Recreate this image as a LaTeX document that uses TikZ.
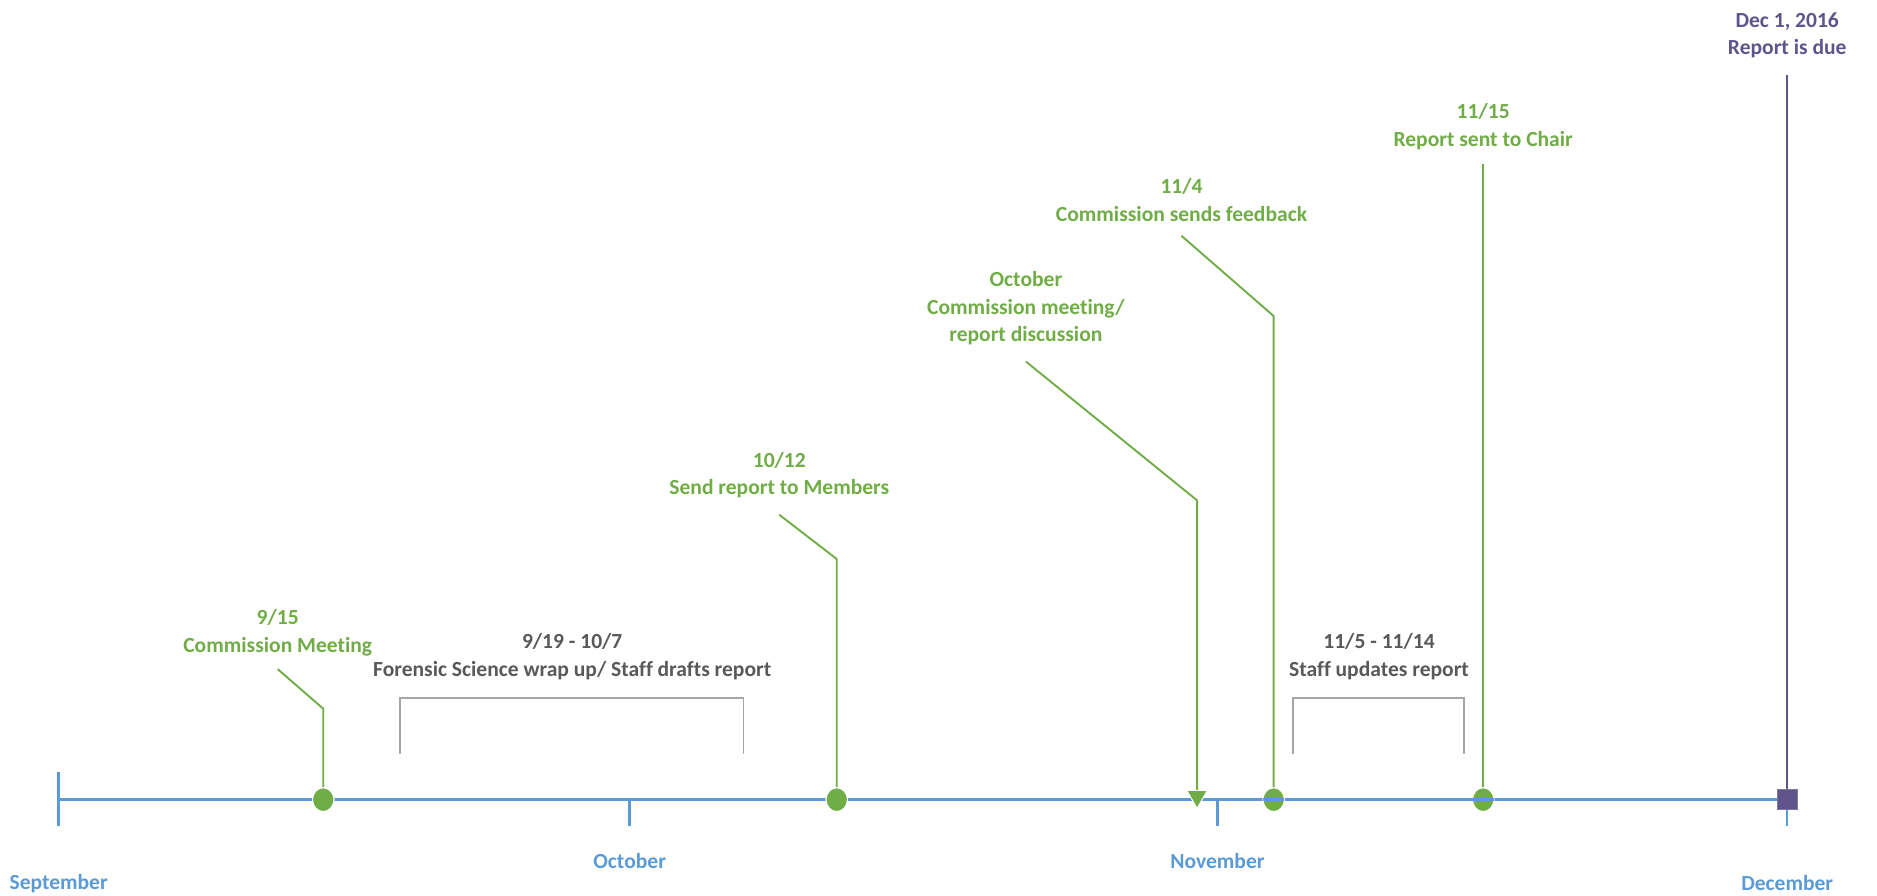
\documentclass[tikz,border=0pt]{standalone}
\usepackage{fontspec}
\setmainfont{Carlito}[Ligatures=CommonOff]
\usetikzlibrary{shapes.geometric}
\definecolor{evgreen}{HTML}{70AD47}
\definecolor{axblue}{HTML}{5B9BD5}
\definecolor{duepurple}{HTML}{5F558C}
\definecolor{brgray}{HTML}{A6A6A6}
\definecolor{txgray}{HTML}{595959}
\tikzset{
  lbl/.style={font=\fontsize{18}{23}\selectfont\bfseries, align=center, inner sep=0pt},
  greenlbl/.style={lbl, text=evgreen},
  graylbl/.style={lbl, text=txgray},
  monthlbl/.style={lbl, text=axblue},
  duelbl/.style={lbl, text=duepurple},
  axisline/.style={draw=axblue, line width=2pt},
  conn/.style={draw=evgreen, line width=1.6pt},
  dueconn/.style={draw=duepurple, line width=1.6pt},
  bracketline/.style={draw=brgray, line width=1.4pt},
  evdot/.style={ellipse, fill=evgreen, draw=white, line width=1pt, minimum width=18pt, minimum height=20pt, inner sep=0pt},
  evtri/.style={isosceles triangle, isosceles triangle apex angle=60, shape border rotate=-90, fill=evgreen, draw=white, line width=0.8pt, minimum width=16pt, minimum height=15pt, inner sep=0pt},
  duesq/.style={rectangle, fill=duepurple, draw=duepurple!80!white, line width=0.8pt, minimum size=17pt, inner sep=0pt},
}
\begin{document}
\begin{tikzpicture}[x=1pt,y=-1pt]
\useasboundingbox (0,0) rectangle (1568,748);

% axis
\coordinate (axS) at (49,668);
\coordinate (axE) at (1493,668);
\draw[axisline] (axS) -- (axE);
% month ticks
\coordinate (tSa) at (49,645); \coordinate (tSb) at (49,690);
\coordinate (tOa) at (526,668); \coordinate (tOb) at (526,690);
\coordinate (tNa) at (1017,668); \coordinate (tNb) at (1017,690);
\coordinate (tDa) at (1493,648); \coordinate (tDb) at (1493,690);
\draw[axisline] (tSa) -- (tSb);
\draw[axisline] (tOa) -- (tOb);
\draw[axisline] (tNa) -- (tNb);
\draw[axisline] (tDa) -- (tDb);
\node[monthlbl] (mSep) at (49,738) {September};
\node[monthlbl] (mOct) at (526,719) {October};
\node[monthlbl] (mNov) at (1017,719) {November};
\node[monthlbl] (mDec) at (1493,738) {December};

% brackets
\coordinate (b1a) at (334,630); \coordinate (b1b) at (334,583);
\coordinate (b1c) at (621,583); \coordinate (b1d) at (621,630);
\draw[bracketline] (b1a) -- (b1b) -- (b1c) -- (b1d);
\node[graylbl] (t1) at (478,548.5) {9/19 - 10/7\\Forensic Science wrap up/ Staff drafts report};
\coordinate (b2a) at (1080,630); \coordinate (b2b) at (1080,583);
\coordinate (b2c) at (1223,583); \coordinate (b2d) at (1223,630);
\draw[bracketline] (b2a) -- (b2b) -- (b2c) -- (b2d);
\node[graylbl] (t2) at (1152,548.5) {11/5 - 11/14\\Staff updates report};

% 9/15
\coordinate (e1bend) at (270,592);
\coordinate (e1end) at (232,559);
\draw[conn] (270,668) -- (e1bend) -- (e1end);
\node[evdot] (e1) at (270,668) {};
\node[greenlbl] (l1) at (232,528.5) {9/15\\Commission Meeting};

% 10/12
\coordinate (e2bend) at (699,467);
\coordinate (e2end) at (651,430);
\draw[conn] (699,668) -- (e2bend) -- (e2end);
\node[evdot] (e2) at (699,668) {};
\node[greenlbl] (l2) at (651,397) {10/12\\Send report to Members};

% October meeting
\coordinate (e3bend) at (1000,418);
\coordinate (e3end) at (857,302);
\node[evtri, anchor=apex] (e3) at (1000,676) {};
\draw[conn] (e3.north) -- (e3bend) -- (e3end);
\node[greenlbl] (l3) at (857,257.5) {October\\Commission meeting/\\report discussion};

% 11/4
\coordinate (e4bend) at (1064,264);
\coordinate (e4end) at (987,197);
\node[evdot] (e4) at (1064,668) {};
\draw[conn] (e4) -- (e4bend) -- (e4end);
\draw[axisline] (1055,668) -- (1073,668);
\node[greenlbl] (l4) at (987,167) {11/4\\Commission sends feedback};

% 11/15
\coordinate (e5end) at (1239,137);
\node[evdot] (e5) at (1239,668) {};
\draw[conn] (e5) -- (e5end);
\draw[axisline] (1230,668) -- (1248,668);
\node[greenlbl] (l5) at (1239,106) {11/15\\Report sent to Chair};

% Dec 1 due
\coordinate (e6end) at (1493,63);
\draw[dueconn] (1493,660) -- (e6end);
\node[duesq] (e6) at (1493,668) {};
\node[duelbl] (l6) at (1493,29.5) {Dec 1, 2016\\Report is due};
\end{tikzpicture}
\end{document}
